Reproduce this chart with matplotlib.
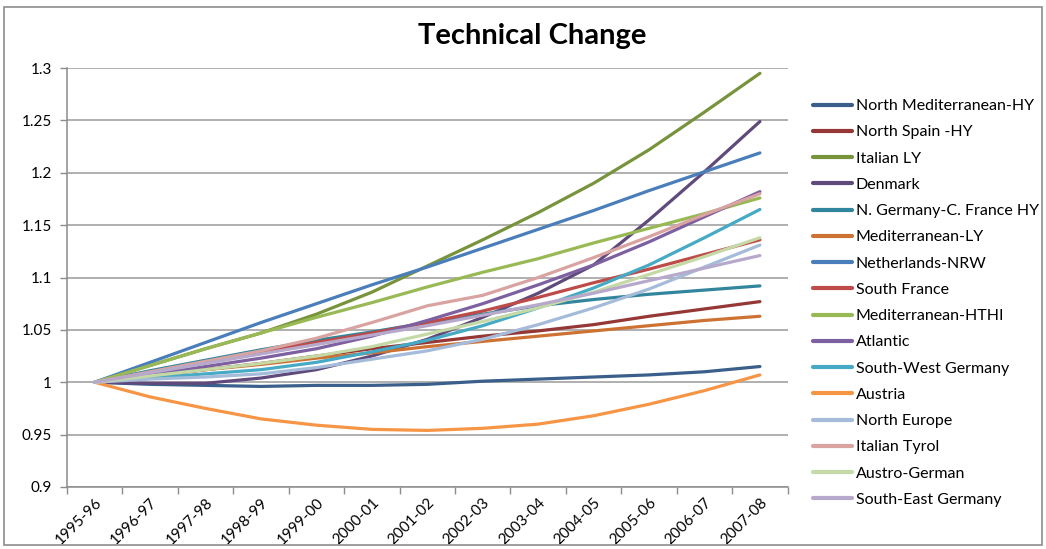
import matplotlib.pyplot as plt
from matplotlib.patches import Rectangle
import numpy as np

plt.rcParams['font.family'] = ['Lato', 'DejaVu Sans']

years = ["1995-96", "1996-97", "1997-98", "1998-99", "1999-00", "2000-01", "2001-02",
         "2002-03", "2003-04", "2004-05", "2005-06", "2006-07", "2007-08"]

north_med_hy = [1.0, 0.998, 0.997, 0.996, 0.997, 0.997, 0.998, 1.001, 1.003, 1.005, 1.007, 1.010, 1.015]
north_spain_hy = [1.0, 1.006, 1.012, 1.018, 1.025, 1.032, 1.038, 1.044, 1.049, 1.055, 1.063, 1.070, 1.077]
italian_ly = [1.0, 1.016, 1.032, 1.047, 1.065, 1.086, 1.111, 1.136, 1.162, 1.190, 1.222, 1.258, 1.295]
denmark = [1.0, 0.999, 0.999, 1.004, 1.012, 1.025, 1.041, 1.062, 1.085, 1.112, 1.155, 1.201, 1.249]
n_germany_c_france = [1.0, 1.011, 1.021, 1.031, 1.040, 1.048, 1.057, 1.065, 1.073, 1.079, 1.084, 1.088, 1.092]
mediterranean_ly = [1.0, 1.006, 1.012, 1.017, 1.023, 1.028, 1.034, 1.039, 1.044, 1.049, 1.054, 1.059, 1.063]
netherlands_nrw = [1.0, 1.019, 1.038, 1.057, 1.075, 1.093, 1.110, 1.128, 1.146, 1.164, 1.183, 1.201, 1.219]
south_france = [1.0, 1.009, 1.019, 1.029, 1.038, 1.047, 1.057, 1.068, 1.081, 1.095, 1.108, 1.122, 1.136]
mediterranean_hthi = [1.0, 1.016, 1.032, 1.047, 1.062, 1.076, 1.091, 1.105, 1.118, 1.133, 1.147, 1.161, 1.176]
atlantic = [1.0, 1.007, 1.015, 1.023, 1.032, 1.044, 1.059, 1.075, 1.093, 1.112, 1.134, 1.158, 1.182]
south_west_germany = [1.0, 1.004, 1.008, 1.012, 1.019, 1.029, 1.040, 1.054, 1.071, 1.090, 1.112, 1.138, 1.165]
austria = [1.0, 0.986, 0.975, 0.965, 0.959, 0.955, 0.954, 0.956, 0.960, 0.968, 0.979, 0.992, 1.007]
north_europe = [1.0, 1.003, 1.005, 1.008, 1.014, 1.022, 1.030, 1.041, 1.055, 1.071, 1.089, 1.110, 1.131]
italian_tyrol = [1.0, 1.010, 1.020, 1.030, 1.042, 1.057, 1.073, 1.083, 1.100, 1.119, 1.139, 1.160, 1.180]
austro_german = [1.0, 1.006, 1.012, 1.018, 1.025, 1.034, 1.046, 1.058, 1.071, 1.086, 1.103, 1.120, 1.138]
south_east_germany = [1.0, 1.009, 1.018, 1.027, 1.036, 1.045, 1.054, 1.064, 1.074, 1.085, 1.097, 1.109, 1.121]

series = [
    ("North Mediterranean-HY", north_med_hy, "#3A5F8B"),
    ("North Spain -HY", north_spain_hy, "#953735"),
    ("Italian LY", italian_ly, "#77933C"),
    ("Denmark", denmark, "#604A7B"),
    ("N. Germany-C. France HY", n_germany_c_france, "#31859C"),
    ("Mediterranean-LY", mediterranean_ly, "#CD7233"),
    ("Netherlands-NRW", netherlands_nrw, "#4A7EBB"),
    ("South France", south_france, "#BE4B48"),
    ("Mediterranean-HTHI", mediterranean_hthi, "#98B954"),
    ("Atlantic", atlantic, "#7D60A0"),
    ("South-West Germany", south_west_germany, "#46AAC5"),
    ("Austria", austria, "#F69546"),
    ("North Europe", north_europe, "#A5BBDA"),
    ("Italian Tyrol", italian_tyrol, "#D9A3A1"),
    ("Austro-German", austro_german, "#C5D9A7"),
    ("South-East Germany", south_east_germany, "#B7A9CB"),
]

fig = plt.figure(figsize=(10.46, 5.49), dpi=100)
ax = fig.add_axes([0.064, 0.113, 0.689, 0.763])

x = np.arange(len(years))
for name, vals, col in series:
    ax.plot(x, vals, color=col, lw=2.3, label=name, solid_capstyle='round')

ax.set_xlim(-0.5, len(years) - 0.5)
ax.set_ylim(0.9, 1.3)
ax.set_yticks(np.arange(0.9, 1.301, 0.05))
ax.set_yticklabels(["0.9", "0.95", "1", "1.05", "1.1", "1.15", "1.2", "1.25", "1.3"])
ax.grid(axis='y', color='#9A9A9A', lw=1.1)
ax.set_axisbelow(True)

# category labels at the centres, tick marks between categories
ax.set_xticks(x)
ax.set_xticklabels(years, rotation=45, ha='right', rotation_mode='anchor', fontsize=11)
ax.set_xticks(np.arange(-0.5, len(years)), minor=True)
ax.tick_params(axis='x', which='major', length=0, pad=6)
ax.tick_params(axis='x', which='minor', length=5, color='#8C8C8C', width=1)
ax.tick_params(axis='y', length=5, color='#8C8C8C', width=1, labelsize=11, pad=6)

for s in ['top', 'right']:
    ax.spines[s].set_visible(False)
for s in ['left', 'bottom']:
    ax.spines[s].set_color('#8C8C8C')
    ax.spines[s].set_linewidth(1.1)

fig.text(0.509, 0.935, "Technical Change", ha='center', va='center',
         fontsize=21, fontweight='bold')

leg = ax.legend(loc='upper left', bbox_to_anchor=(1.035, 0.926), frameon=False,
                fontsize=11.5, handlelength=2.45, handletextpad=0.25,
                labelspacing=0.755, borderaxespad=0, borderpad=0)
for line in leg.get_lines():
    line.set_linewidth(3)

fig.patches.append(Rectangle((0.004, 0.008), 0.992, 0.98, transform=fig.transFigure,
                             fill=False, edgecolor='#8C8C8C', lw=1.2))

fig.savefig("out.png", dpi=100)
